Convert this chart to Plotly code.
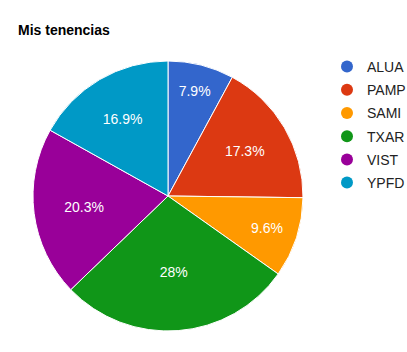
import plotly.graph_objects as go

labels = ["ALUA", "PAMP", "SAMI", "TXAR", "VIST", "YPFD"]
values = [7.9, 17.3, 9.6, 28.0, 20.3, 16.9]
colors = ["#3366cc", "#dc3912", "#ff9900", "#109618", "#990099", "#0099c6"]

W, H = 407, 352
fig = go.Figure()
fig.add_trace(go.Pie(
    labels=labels, values=values, sort=False, direction="clockwise", rotation=0,
    marker=dict(colors=colors, line=dict(color="white", width=1)),
    textinfo="percent", textposition="inside", insidetextorientation="horizontal",
    textfont=dict(family="Arial, Liberation Sans", size=14, color="white"),
    showlegend=False, hoverinfo="label+percent",
    domain=dict(x=[33 / W, 303 / W], y=[21 / H, 291 / H]),
))
for i, (lab, col) in enumerate(zip(labels, colors)):
    fig.add_trace(go.Scatter(x=[None], y=[None], mode="markers", name=lab,
                             legendgroup=str(i),
                             marker=dict(color=col, size=14, symbol="circle")))

fig.update_layout(
    width=W, height=H, margin=dict(l=0, r=0, t=0, b=0, autoexpand=False),
    paper_bgcolor="white", plot_bgcolor="white",
    xaxis=dict(visible=False), yaxis=dict(visible=False),
    font=dict(family="Arial, Liberation Sans", color="#222222", size=14),
    title=dict(text="<b>Mis tenencias</b>", x=18 / W, xanchor="left", xref="container",
               y=1 - 30 / H, yanchor="middle", yref="container",
               font=dict(size=14, color="black", family="Arial, Liberation Sans")),
    legend=dict(x=327 / W, y=1 - 51 / H, xanchor="left", yanchor="top",
                font=dict(size=14, color="#222222"), bgcolor="rgba(0,0,0,0)",
                itemsizing="constant", tracegroupgap=2),
)
fig.write_html("out.html")
